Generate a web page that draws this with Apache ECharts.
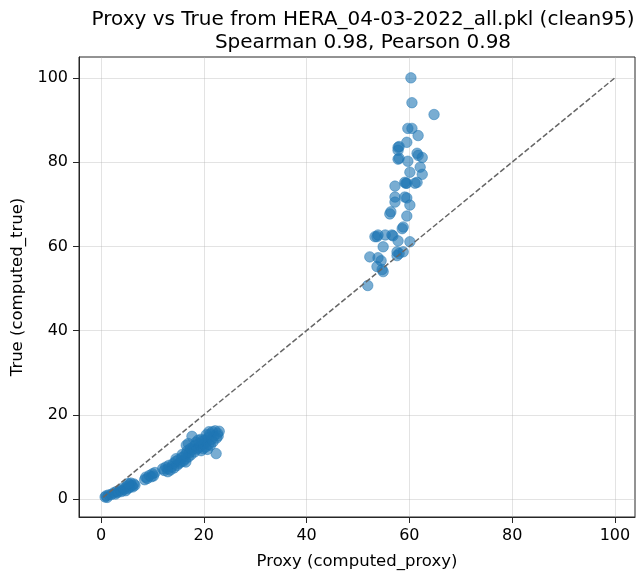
<!DOCTYPE html>
<html>
<head>
<meta charset="utf-8">
<script src="https://cdn.jsdelivr.net/npm/echarts@6/dist/echarts.min.js"></script>
<style>
  html, body { margin: 0; padding: 0; background: #fff; }
  #chart { width: 636px; height: 575px; }
</style>
</head>
<body>
<div id="chart"></div>
<script>
// Proxy (computed_proxy) vs True (computed_true), clean95 subset
const titleLines = [
  'Proxy vs True from HERA_04-03-2022_all.pkl (clean95)',
  'Spearman 0.98, Pearson 0.98'
];
const xAxisName = 'Proxy (computed_proxy)';
const yAxisName = 'True (computed_true)';
const tickValues = [0, 20, 40, 60, 80, 100];

// Low-value group: [proxy, true]
const lowPoints = [
  [0.8, 0.5], [1.0, 0.8], [1.2, 0.4], [1.5, 1.0], [2.0, 1.1], [2.5, 1.5], [2.8, 1.2],
  [3.0, 1.8], [3.3, 1.6], [3.8, 2.1], [4.0, 1.8], [4.2, 2.6], [4.5, 2.3], [4.8, 2.0],
  [5.0, 3.0], [5.2, 2.5], [5.5, 3.4], [5.6, 2.8], [5.8, 3.8], [6.0, 3.2], [6.2, 2.9],
  [6.4, 3.6], [6.6, 3.3], [5.3, 3.7],
  [8.5, 4.6], [8.7, 5.2], [9.0, 4.9], [9.4, 5.6], [9.8, 5.3], [10.0, 6.0], [10.2, 5.5],
  [10.5, 6.3],
  [12.3, 6.8], [12.6, 7.6], [13.0, 7.2], [13.2, 8.0], [13.5, 6.9], [13.8, 7.7], [14.0, 8.4],
  [14.2, 7.4], [14.5, 8.9], [14.8, 8.0], [15.0, 9.3], [15.2, 8.5], [15.5, 8.8], [15.7, 9.8],
  [16.0, 9.0], [16.2, 10.2], [16.4, 9.5], [16.6, 10.8], [16.8, 11.5], [17.0, 10.0],
  [17.2, 11.0], [17.4, 12.0], [17.5, 10.5], [17.7, 14.9], [17.8, 11.8], [18.0, 12.5],
  [18.2, 11.2], [18.4, 12.8], [18.5, 13.5], [18.7, 11.9], [19.0, 12.2], [19.2, 13.2],
  [19.4, 12.6], [19.5, 11.5], [19.7, 13.8], [19.9, 12.0], [20.0, 13.0], [20.2, 14.0],
  [20.4, 12.4], [20.5, 13.5], [20.7, 11.8], [20.9, 14.6], [21.0, 13.0], [21.2, 15.4],
  [21.3, 12.8], [21.5, 14.2], [21.7, 16.0], [21.8, 13.6], [22.0, 15.0], [22.2, 16.2],
  [22.4, 10.8], [22.5, 14.5], [22.7, 15.6], [23.0, 16.1], [22.8, 15.0], [21.0, 16.0],
  [20.5, 15.3], [19.5, 14.2], [16.5, 8.8], [13.0, 6.5], [12.0, 7.2], [14.6, 9.6],
  [15.8, 10.6], [18.9, 14.0], [16.6, 12.8], [17.0, 13.2]
];

// High-value group: [proxy, true]
const highPoints = [
  [60.3, 100.0], [60.5, 94.1], [64.8, 91.3], [59.7, 88.0], [60.5, 88.0], [61.7, 86.3],
  [59.5, 84.7], [57.8, 83.5], [57.8, 82.8], [58.0, 80.9], [59.7, 80.2], [61.5, 82.1],
  [61.7, 81.6], [62.5, 81.1], [62.1, 78.8], [60.1, 77.6], [62.5, 77.1], [59.5, 75.0],
  [61.1, 75.0], [61.5, 75.2], [59.1, 75.2], [57.2, 74.3], [57.2, 71.7], [57.2, 70.5],
  [59.1, 71.7], [59.5, 71.5], [60.1, 69.8], [56.4, 68.2], [56.2, 67.7], [59.5, 67.2],
  [58.8, 64.6], [58.6, 64.2], [53.3, 62.3], [53.7, 62.3], [55.3, 62.7], [56.6, 62.7],
  [57.8, 61.3], [54.9, 59.9], [60.1, 61.1], [52.3, 57.5], [53.9, 57.3], [54.5, 56.6],
  [53.7, 55.2], [54.9, 54.0], [54.7, 54.5], [57.6, 58.7], [57.6, 57.8], [58.8, 58.7],
  [58.0, 58.3], [51.9, 50.7], [59.3, 75.0], [57.8, 80.7], [58.0, 83.7], [56.8, 62.5],
  [53.9, 62.7]
];

// y = x reference line endpoints
const identityLine = [[0.4, 0.4], [100, 100]];

const chart = echarts.init(document.getElementById('chart'), null, { renderer: 'canvas' });
const font = 'DejaVu Sans';
const gridColor = 'rgba(176,176,176,0.35)';
const spineColor = '#262626';
const pointColor = 'rgba(31,119,180,0.75)';

chart.setOption({
  animation: false,
  backgroundColor: '#ffffff',
  textStyle: { fontFamily: font },
  title: {
    text: titleLines.join('\n'),
    left: 358,
    top: 3,
    textAlign: 'center',
    textStyle: { fontFamily: font, fontSize: 20, fontWeight: 'normal', color: '#000', lineHeight: 23 }
  },
  grid: {
    left: 79, top: 57, width: 556, height: 463,
    show: true, borderColor: spineColor, borderWidth: 1, backgroundColor: 'transparent'
  },
  xAxis: {
    type: 'value',
    min: -4.28, max: 103.9,
    name: xAxisName,
    nameLocation: 'middle',
    nameGap: 36,
    nameTextStyle: { fontFamily: font, fontSize: 16.5, color: '#000' },
    axisLine: { show: true, onZero: false, lineStyle: { color: spineColor, width: 1 } },
    axisTick: { show: true, length: 6, customValues: tickValues, lineStyle: { color: spineColor } },
    axisLabel: { customValues: tickValues, fontFamily: font, fontSize: 16, color: '#000', margin: 11 },
    splitLine: { show: true, lineStyle: { color: gridColor, width: 1 } }
  },
  yAxis: {
    type: 'value',
    min: -4.25, max: 104.95,
    name: yAxisName,
    nameLocation: 'middle',
    nameGap: 52,
    nameRotate: 90,
    nameTextStyle: { fontFamily: font, fontSize: 16.5, color: '#000' },
    axisLine: { show: true, onZero: false, lineStyle: { color: spineColor, width: 1 } },
    axisTick: { show: true, length: 6, customValues: tickValues, lineStyle: { color: spineColor } },
    axisLabel: { customValues: tickValues, fontFamily: font, fontSize: 16, color: '#000', margin: 11 },
    splitLine: { show: true, lineStyle: { color: gridColor, width: 1 } }
  },
  series: [
    {
      type: 'scatter',
      data: lowPoints.concat(highPoints),
      symbol: 'circle',
      symbolSize: 10.5,
      itemStyle: { color: pointColor, borderColor: pointColor, borderWidth: 0.8 },
      z: 2
    },
    {
      type: 'line',
      data: identityLine,
      symbol: 'none',
      lineStyle: { color: '#666666', width: 1.5, type: [5.5, 2.4] },
      z: 3
    }
  ]
});
</script>
</body>
</html>
